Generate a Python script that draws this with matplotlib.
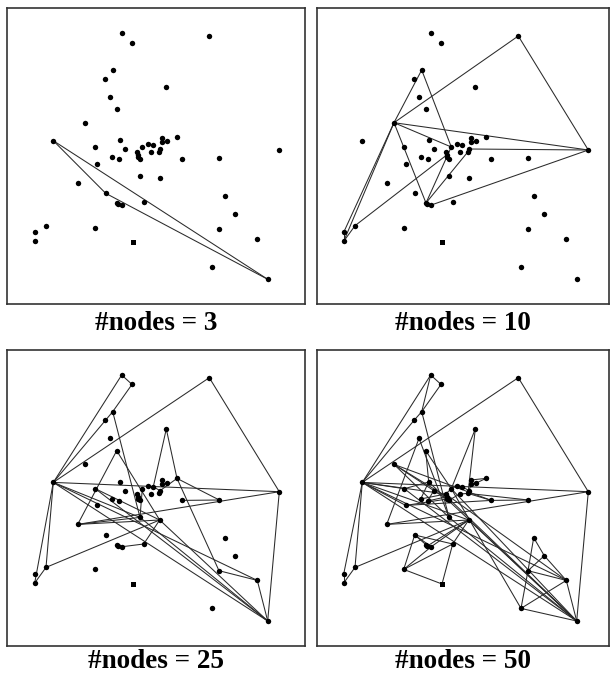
import matplotlib
matplotlib.use("Agg")
import matplotlib.pyplot as plt

plt.rcParams['font.family'] = ['Liberation Serif', 'DejaVu Serif']

# node positions (same set in every panel)
node_x = [121.7, 132.0, 209.3, 112.7, 105.0, 166.3, 110.0, 116.7, 85.0, 53.3,
          95.3, 96.7, 119.7, 124.7, 111.7, 118.7, 136.7, 137.7, 138.3, 139.7,
          142.3, 148.3, 153.3, 150.7, 159.0, 160.0, 161.7, 162.3, 167.3, 177.0,
          182.3, 140.0, 159.7, 105.7, 117.0, 122.3, 118.3, 143.7, 279.3, 219.3,
          77.7, 224.7, 235.3, 46.0, 34.7, 34.7, 94.7, 133.0, 219.0, 257.3,
          212.0, 267.7]
node_y = [33.3, 42.7, 36.0, 70.0, 78.7, 87.3, 96.7, 109.0, 122.7, 140.7,
          147.0, 163.7, 140.3, 149.0, 157.3, 159.3, 152.3, 155.0, 157.3, 158.7,
          147.0, 144.0, 145.0, 152.3, 151.7, 149.0, 138.3, 142.3, 141.3, 136.7,
          158.7, 175.7, 178.3, 193.3, 203.0, 205.0, 204.3, 202.3, 150.0, 158.3,
          182.7, 196.0, 214.0, 225.7, 232.3, 241.3, 227.7, 242.3, 229.0, 238.7,
          266.7, 279.3]
square_nodes = [47]

titles = ["#nodes = 3", "#nodes = 10", "#nodes = 25", "#nodes = 50"]

edges_3 = [(9, 51), (9, 33), (33, 51)]

edges_10 = [(8, 2), (2, 38), (8, 38), (38, 25), (38, 35), (8, 3), (3, 20),
            (8, 20), (8, 34), (34, 20), (34, 24), (8, 44), (8, 45), (44, 45),
            (45, 43), (43, 17)]

edges_25 = [(9, 0), (0, 1), (1, 3), (3, 9), (9, 2), (2, 38), (9, 38), (38, 51),
            (38, 40), (3, 31), (7, 40), (7, 32), (5, 22), (5, 29), (29, 39),
            (39, 30), (29, 48), (48, 49), (49, 51), (9, 51), (10, 51), (31, 51),
            (32, 51), (9, 49), (40, 32), (40, 31), (10, 32), (43, 32), (32, 37),
            (37, 35), (35, 34), (9, 43), (43, 45), (45, 9), (9, 31), (29, 25),
            (22, 25), (20, 31)]

edges_50 = [(9, 0), (0, 1), (1, 3), (3, 4), (4, 9), (0, 3), (9, 2), (2, 38),
            (9, 38), (38, 51), (38, 40), (3, 31), (6, 40), (6, 31), (7, 20),
            (7, 12), (8, 17), (8, 31), (5, 20), (5, 24), (26, 29), (29, 28),
            (30, 39), (39, 24), (9, 51), (10, 51), (31, 51), (32, 51), (17, 51),
            (9, 49), (20, 50), (40, 32), (43, 32), (9, 43), (43, 45), (44, 9),
            (45, 44), (33, 46), (33, 35), (46, 47), (46, 37), (46, 35), (47, 37),
            (37, 32), (35, 36), (41, 48), (41, 42), (42, 49), (48, 49), (48, 50),
            (50, 51), (49, 51), (12, 14), (14, 16), (16, 20), (20, 21), (21, 22),
            (22, 25), (25, 27), (27, 28), (13, 15), (15, 17), (17, 18), (18, 19),
            (19, 23), (23, 24), (11, 18), (10, 12), (9, 10), (9, 11), (11, 30),
            (8, 30), (36, 32), (34, 33), (9, 32), (24, 30), (12, 51), (16, 49),
            (8, 19), (42, 48), (33, 37), (35, 32), (9, 16), (50, 49), (20, 51)]

panel_edges = [edges_3, edges_10, edges_25, edges_50]

W, H = 611, 674
fig = plt.figure(figsize=(W / 100, H / 100), dpi=100)

# frame boxes in pixels: left, top, width
frames = [(7.5, 8.3, 297), (316.5, 8.3, 292.5), (7.5, 350.0, 297), (316.5, 350.0, 292.5)]
fh = 296
title_y = [323, 323, 662, 662]

for k in range(4):
    left, top, fw = frames[k]
    ax = fig.add_axes([left / W, 1 - (top + fh) / H, fw / W, fh / H])
    for a, b in panel_edges[k]:
        ax.plot([node_x[a], node_x[b]], [node_y[a], node_y[b]],
                color='#2a2a2a', lw=0.75, solid_capstyle='round')
    rx = [node_x[i] for i in range(len(node_x)) if i not in square_nodes]
    ry = [node_y[i] for i in range(len(node_y)) if i not in square_nodes]
    ax.plot(rx, ry, 'o', color='black', ms=3.9, mew=0)
    sx = [node_x[i] for i in square_nodes]
    sy = [node_y[i] for i in square_nodes]
    ax.plot(sx, sy, 's', color='black', ms=3.6, mew=0)
    ax.set_xlim(7.5, 7.5 + fw)
    ax.set_ylim(8.3 + fh, 8.3)
    ax.set_xticks([])
    ax.set_yticks([])
    for sp in ax.spines.values():
        sp.set_color('#333333')
        sp.set_linewidth(1.2)
    fig.text((left + fw / 2) / W, 1 - title_y[k] / H, titles[k],
             ha='center', va='center', fontsize=19.5, fontweight='bold')

fig.savefig('out.png', dpi=100)
